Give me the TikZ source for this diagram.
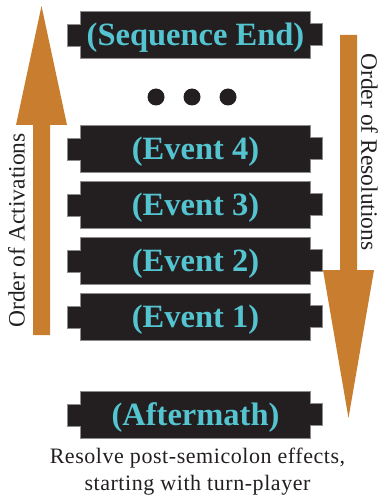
\documentclass[tikz,border=0pt]{standalone}
\usepackage{fontspec}
\setmainfont{Liberation Serif}
\newfontfamily\notefont[LetterSpace=2.5]{Liberation Serif}
\usetikzlibrary{backgrounds}
\definecolor{barblack}{RGB}{35,31,32}
\definecolor{eventcyan}{RGB}{84,196,208}
\definecolor{flowamber}{RGB}{201,125,46}

\begin{document}
\begin{tikzpicture}[x=1pt, y=-1pt,
  seqbar/.style={minimum width=229pt, minimum height=46pt, inner sep=0pt,
    text height=27.4pt, text depth=6.5pt,
    text=eventcyan, font=\fontsize{32.5}{32.5}\selectfont\bfseries},
  barshape/.style={fill=barblack, draw=black!45, line width=0.7pt},
  flowarrow/.style={fill=flowamber},
  flowlabel/.style={text=barblack, inner sep=0pt, font=\fontsize{23.5}{23.5}\selectfont}]
  \useasboundingbox (0,0) rectangle (383,497);

  % Chain links
  \node[seqbar] (seqend) at (195.5,35) {(Sequence End)};
  \node[seqbar] (ev4) at (195.5,149) {(Event 4)};
  \node[seqbar] (ev3) at (195.5,205) {(Event 3)};
  \node[seqbar] (ev2) at (195.5,261) {(Event 2)};
  \node[seqbar] (ev1) at (195.5,317) {(Event 1)};
  \node[seqbar] (after) at (195.5,415) {(Aftermath)};

  % Bar bodies with side tabs
  \begin{pgfonlayer}{background}
    \foreach \b in {seqend,ev4,ev3,ev2,ev1,after} {
      \draw[barshape] (\b.north west) -- (\b.north east) -- ++(0,12) -- ++(12,0)
        -- ++(0,22) -- ++(-12,0) -- (\b.south east) -- (\b.south west)
        -- ++(0,-12) -- ++(-13,0) -- ++(0,-22) -- ++(13,0) -- cycle;
    }
  \end{pgfonlayer}

  % More links
  \foreach \x in {156,192,228}
    \fill[barblack] (\x,97) circle (8.5);

  % Activation and resolution arrows
  \fill[flowarrow] (33,335) -- (33,125) -- (16,125) -- (41.5,6) -- (67,125)
    -- (50,125) -- (50,335) -- cycle;
  \fill[flowarrow] (340,35) -- (357,35) -- (357,270) -- (374,270) -- (348.5,418)
    -- (323,270) -- (340,270) -- cycle;

  \node[flowlabel, rotate=90] (activ) at (16.5,230.5) {Order of Activations};
  \node[flowlabel, rotate=-90] (resol) at (369.5,152) {Order of Resolutions};

  \node[text=barblack, anchor=north, inner sep=0pt, align=center,
    font=\notefont\fontsize{22}{27}\selectfont] (note) at (197.5,447.5)
    {Resolve post-semicolon effects,\\starting with turn-player};
\end{tikzpicture}
\end{document}
